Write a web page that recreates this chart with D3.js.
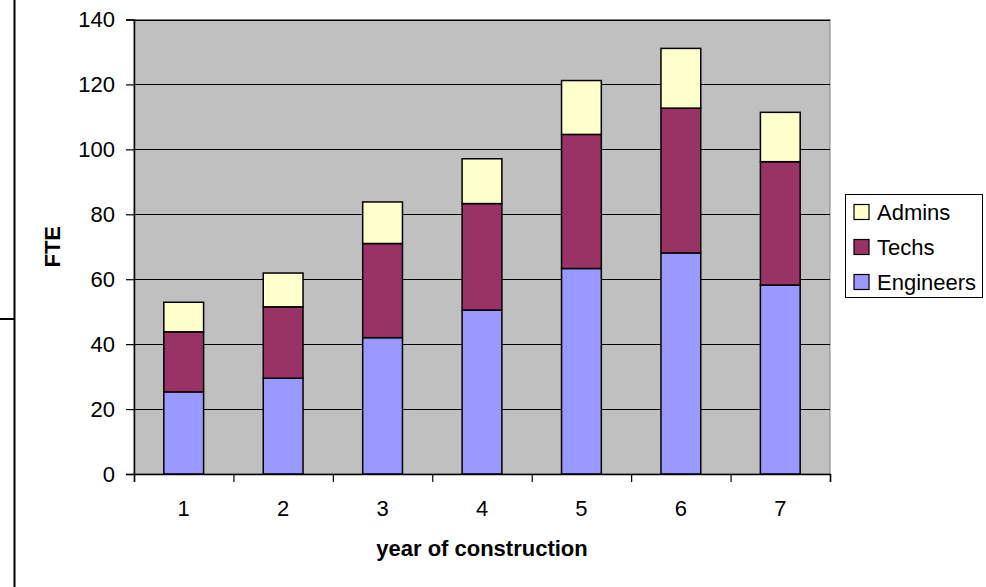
<!DOCTYPE html>
<html>
<head>
<meta charset="utf-8">
<script src="https://cdn.jsdelivr.net/npm/d3@7"></script>
<style>
    body { margin: 0; background: #fff; }
    svg { display: block; font-family: "Liberation Sans", Arial, sans-serif; }
</style>
</head>
<body>
<svg id="chart" width="986" height="587"></svg>
<script>
// chart values
const years = ["1", "2", "3", "4", "5", "6", "7"];
const engineers = [25.3, 29.5, 42, 50.5, 63.3, 68.1, 58.2];
const techs = [18.5, 22, 29, 32.8, 41.3, 44.6, 38];
const admins = [9.1, 10.4, 12.8, 13.8, 16.6, 18.4, 15.2];
const seriesNames = ["Engineers", "Techs", "Admins"];
const seriesColors = ["#9999FF", "#993366", "#FFFFCC"];
const yTicks = [0, 20, 40, 60, 80, 100, 120, 140];

const svg = d3.select("#chart");
const plot = { left: 134, right: 830, top: 19.5, bottom: 474 };

const rows = years.map((y, i) => ({
    year: y,
    Engineers: engineers[i],
    Techs: techs[i],
    Admins: admins[i]
}));
const stacked = d3.stack().keys(seriesNames)(rows);

const x = d3.scaleBand().domain(years).range([plot.left, plot.right]).padding(0);
const xEdge = d3.scaleLinear().domain([0, years.length]).range([plot.left, plot.right]);
const y = d3.scaleLinear().domain([0, 140]).range([plot.bottom, plot.top]);
const color = d3.scaleOrdinal().domain(seriesNames).range(seriesColors);

// odd frame line on the left side of the picture
svg.append("line")
    .attr("x1", 14.5).attr("x2", 14.5).attr("y1", 0).attr("y2", 587)
    .attr("stroke", "#000").attr("stroke-width", 2);
svg.append("line")
    .attr("x1", 0).attr("x2", 15).attr("y1", 319).attr("y2", 319)
    .attr("stroke", "#000").attr("stroke-width", 2);

// plot area
svg.append("rect")
    .attr("x", plot.left).attr("y", plot.top)
    .attr("width", plot.right - plot.left).attr("height", plot.bottom - plot.top)
    .attr("fill", "#C0C0C0")
    .attr("stroke", "#808080").attr("stroke-width", 1);

// gridlines
svg.append("g")
    .selectAll("line")
    .data(yTicks.filter(t => t > 0))
    .join("line")
    .attr("x1", plot.left).attr("x2", plot.right)
    .attr("y1", d => Math.round(y(d)) + 0.5).attr("y2", d => Math.round(y(d)) + 0.5)
    .attr("stroke", "#000").attr("stroke-width", 1);

// bars
const barW = x.bandwidth() * 0.4;
svg.append("g")
    .selectAll("g")
    .data(stacked)
    .join("g")
    .attr("fill", d => color(d.key))
    .selectAll("rect")
    .data(d => d)
    .join("rect")
    .attr("x", d => x(d.data.year) + (x.bandwidth() - barW) / 2)
    .attr("y", d => y(d[1]))
    .attr("width", barW)
    .attr("height", d => y(d[0]) - y(d[1]))
    .attr("stroke", "#000").attr("stroke-width", 1.5);

// y axis
svg.append("g")
    .attr("transform", "translate(" + plot.left + ",0)")
    .call(d3.axisLeft(y).tickValues(yTicks).tickSize(8).tickPadding(11));

// x axis: edge ticks and centred labels
svg.append("g")
    .attr("transform", "translate(0," + plot.bottom + ")")
    .call(d3.axisBottom(xEdge).ticks(years.length).tickSize(8).tickFormat(""));
const xLabelAxis = svg.append("g")
    .attr("transform", "translate(0," + plot.bottom + ")")
    .call(d3.axisBottom(x).tickSize(0).tickPadding(26));
xLabelAxis.select("path.domain").remove();

svg.selectAll(".tick line").attr("stroke", "#000").attr("stroke-width", 1.2);
svg.selectAll("path.domain").attr("stroke", "#000").attr("stroke-width", 1.5);
svg.selectAll(".tick text")
    .attr("font-family", '"Liberation Sans", Arial, sans-serif')
    .attr("font-size", 22)
    .attr("fill", "#000");

// axis titles
svg.append("text")
    .attr("x", (plot.left + plot.right) / 2).attr("y", 556)
    .attr("text-anchor", "middle")
    .attr("font-size", 22).attr("font-weight", "bold")
    .text("year of construction");
svg.append("text")
    .attr("transform", "translate(60," + (plot.top + plot.bottom) / 2 + ") rotate(-90)")
    .attr("text-anchor", "middle")
    .attr("font-size", 22).attr("font-weight", "bold")
    .text("FTE");

// legend
const legend = svg.append("g");
legend.append("rect")
    .attr("x", 845.5).attr("y", 194.5).attr("width", 137).attr("height", 103)
    .attr("fill", "#fff").attr("stroke", "#000").attr("stroke-width", 1);
const legendOrder = seriesNames.slice().reverse();
const items = legend.selectAll("g.item")
    .data(legendOrder)
    .join("g")
    .attr("class", "item")
    .attr("transform", (d, i) => "translate(854," + (212 + i * 35) + ")");
items.append("rect")
    .attr("x", 0).attr("y", -7.5).attr("width", 15).attr("height", 15)
    .attr("fill", d => color(d))
    .attr("stroke", "#000").attr("stroke-width", 1.2);
items.append("text")
    .attr("x", 23).attr("y", 0).attr("dy", "0.36em")
    .attr("font-size", 22)
    .text(d => d);
</script>
</body>
</html>
